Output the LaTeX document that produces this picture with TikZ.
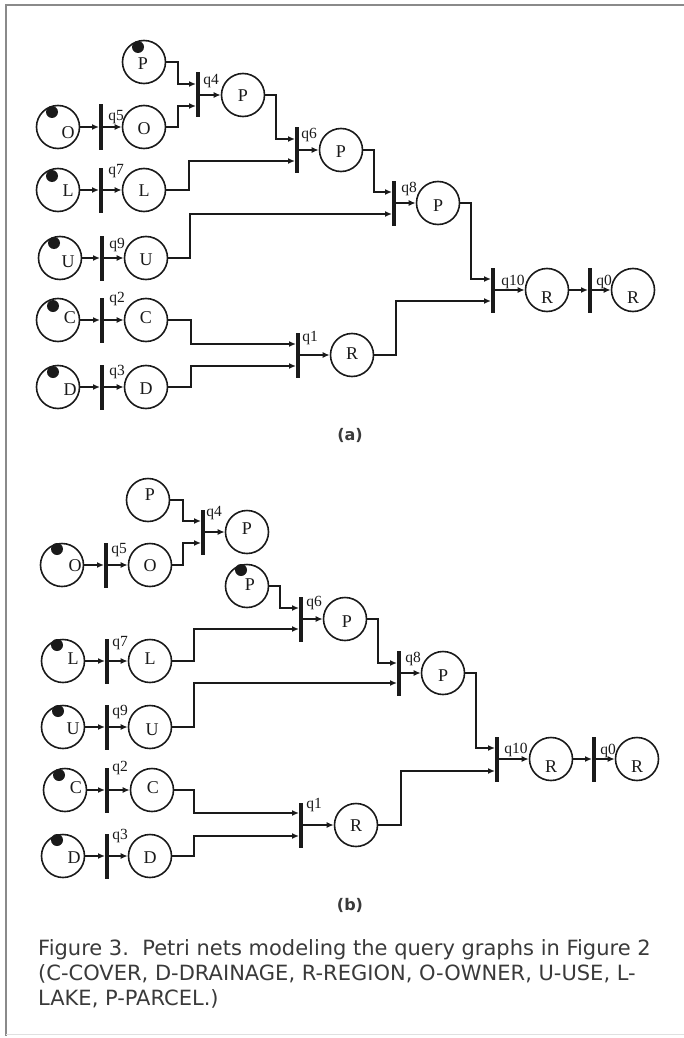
\documentclass[tikz,border=0pt]{standalone}
\usepackage{fontspec}
\setmainfont{Liberation Serif}
\newfontfamily\capfont{DejaVu Sans}
\usetikzlibrary{arrows.meta}
\definecolor{ink}{HTML}{1A1A1A}
\definecolor{framecol}{HTML}{8A8A8A}
\definecolor{captxt}{HTML}{3A3A3A}
\begin{document}
\begin{tikzpicture}[x=1pt,y=-1pt,
 place/.style={circle,draw=ink,line width=1.6pt,minimum size=43pt,inner sep=0pt},
 bar/.style={rectangle,fill=ink,draw=none,minimum width=4pt,minimum height=45pt,inner sep=0pt,outer sep=0pt},
 arc/.style={draw=ink,line width=1.5pt,-{Latex[length=7pt,width=6pt]}},
 ltr/.style={font=\fontsize{18}{18}\selectfont,text=ink,inner sep=0pt},
 qlab/.style={font=\fontsize{15.5}{15.5}\selectfont,text=ink,inner sep=0pt},
 tok/.style={fill=ink},
 sub/.style={font=\capfont\bfseries\fontsize{16}{16}\selectfont,text=captxt,inner sep=0pt},
 capline/.style={font=\capfont\fontsize{21}{21}\selectfont,text=captxt,inner sep=0pt,anchor=base west}]
\useasboundingbox (0,0) rectangle (684,1038);
% frame
\draw[framecol,line width=2pt] (5,5) -- (684,5);
\draw[framecol,line width=1.5pt] (6,5) -- (6,1036);
\draw[black!12,line width=1pt] (6,1034) -- (684,1034);

% ================= (a) =================
\node[place] (P0) at (144,62) {};
\node[place] (P4) at (243,95) {};
\node[place] (O0) at (58,127) {};
\node[place] (O1) at (144,127) {};
\node[place] (P6) at (341,150) {};
\node[place] (L0) at (58,190) {};
\node[place] (L1) at (144,190) {};
\node[place] (P8) at (438,203) {};
\node[place] (U0) at (60,258) {};
\node[place] (U1) at (146,258) {};
\node[place] (R10) at (547,290) {};
\node[place] (R0) at (633,290) {};
\node[place] (C0) at (58,320) {};
\node[place] (C1) at (146,320) {};
\node[place] (R1) at (352,355) {};
\node[place] (D0) at (58,387) {};
\node[place] (D1) at (146,387) {};

\node[bar] (q4) at (198,95) {};
\node[bar] (q5) at (101,127) {};
\node[bar] (q6) at (297,150) {};
\node[bar] (q7) at (101,190) {};
\node[bar] (q8) at (394,203) {};
\node[bar] (q9) at (102,258) {};
\node[bar] (q10) at (493,290) {};
\node[bar] (q0) at (590,290) {};
\node[bar] (q2) at (102,320) {};
\node[bar] (q1) at (298,355) {};
\node[bar] (q3) at (102,387) {};

\fill[tok] (138,47) circle[radius=6pt];
\fill[tok] (52,112) circle[radius=6pt];
\fill[tok] (52,176) circle[radius=6pt];
\fill[tok] (54,243) circle[radius=6pt];
\fill[tok] (53,306) circle[radius=6pt];
\fill[tok] (53,372) circle[radius=6pt];

\node[ltr] (tP0) at (143,64) {P};
\node[ltr] (tP4) at (243,96) {P};
\node[ltr] (tO0) at (68,133) {O};
\node[ltr] (tO1) at (144,129) {O};
\node[ltr] (tP6) at (341,152) {P};
\node[ltr] (tL0) at (68,191) {L};
\node[ltr] (tL1) at (144,191) {L};
\node[ltr] (tP8) at (438,206) {P};
\node[ltr] (tU0) at (68,262) {U};
\node[ltr] (tU1) at (146,260) {U};
\node[ltr] (tR10) at (547,298) {R};
\node[ltr] (tR0) at (633,298) {R};
\node[ltr] (tC0) at (70,318) {C};
\node[ltr] (tC1) at (146,318) {C};
\node[ltr] (tR1) at (352,354) {R};
\node[ltr] (tD0) at (70,390) {D};
\node[ltr] (tD1) at (146,389) {D};

\node[qlab] (lq4) at (211,81) {q4};
\node[qlab] (lq5) at (116,117) {q5};
\node[qlab] (lq6) at (309,135) {q6};
\node[qlab] (lq7) at (116,171) {q7};
\node[qlab] (lq9) at (117,245) {q9};
\node[qlab] (lq2) at (117,299) {q2};
\node[qlab] (lq3) at (117,372) {q3};
\node[qlab] (lq1) at (310,338) {q1};
\node[qlab] (lq8) at (409,189) {q8};
\node[qlab] (lq10) at (513,282) {q10};
\node[qlab] (lq0) at (604,282) {q0};

\draw[arc] (P0.east) -- ++(11.5,0) |- ([yshift=11pt]q4.west);
\draw[arc] (O1.east) -- ++(11.5,0) |- ([yshift=-11pt]q4.west);
\draw[arc] (q4) -- (P4);
\draw[arc] (O0) -- (q5);
\draw[arc] (q5) -- (O1);
\draw[arc] (P4.east) -- ++(10.5,0) |- ([yshift=11pt]q6.west);
\draw[arc] (L1.east) -- ++(22.5,0) |- ([yshift=-11pt]q6.west);
\draw[arc] (q6) -- (P6);
\draw[arc] (L0) -- (q7);
\draw[arc] (q7) -- (L1);
\draw[arc] (P6.east) -- ++(10.5,0) |- ([yshift=11pt]q8.west);
\draw[arc] (U1.east) -- ++(21.5,0) |- ([yshift=-11pt]q8.west);
\draw[arc] (q8) -- (P8);
\draw[arc] (U0) -- (q9);
\draw[arc] (q9) -- (U1);
\draw[arc] (P8.east) -- ++(10.5,0) |- ([yshift=11pt]q10.west);
\draw[arc] (R1.east) -- ++(21.5,0) |- ([yshift=-11pt]q10.west);
\draw[arc] (q10) -- (R10);
\draw[arc] (R10) -- (q0);
\draw[arc] (q0) -- (R0);
\draw[arc] (C0) -- (q2);
\draw[arc] (q2) -- (C1);
\draw[arc] (D0) -- (q3);
\draw[arc] (q3) -- (D1);
\draw[arc] (C1.east) -- ++(22.5,0) |- ([yshift=11pt]q1.west);
\draw[arc] (D1.east) -- ++(22.5,0) |- ([yshift=-11pt]q1.west);
\draw[arc] (q1) -- (R1);

\node[sub] (suba) at (350,435) {(a)};

% ================= (b) =================
\node[place] (P0b) at (148,500) {};
\node[place] (P4b) at (247,532) {};
\node[place] (O0b) at (62,565) {};
\node[place] (O1b) at (150,565) {};
\node[place] (P5b) at (247,586) {};
\node[place] (P6b) at (345,619) {};
\node[place] (L0b) at (63,661) {};
\node[place] (L1b) at (150,661) {};
\node[place] (P8b) at (443,673) {};
\node[place] (U0b) at (63,727) {};
\node[place] (U1b) at (150,727) {};
\node[place] (R10b) at (551,759) {};
\node[place] (R0b) at (637,759) {};
\node[place] (C0b) at (65,790) {};
\node[place] (C1b) at (152,790) {};
\node[place] (R1b) at (356,825) {};
\node[place] (D0b) at (63,856) {};
\node[place] (D1b) at (150,856) {};

\node[bar] (q4b) at (203,532) {};
\node[bar] (q5b) at (106,565) {};
\node[bar] (q6b) at (301,619) {};
\node[bar] (q7b) at (107,661) {};
\node[bar] (q8b) at (399,673) {};
\node[bar] (q9b) at (107,727) {};
\node[bar] (q10b) at (497,759) {};
\node[bar] (q0b) at (594,759) {};
\node[bar] (q2b) at (107,790) {};
\node[bar] (q1b) at (301,825) {};
\node[bar] (q3b) at (107,856) {};

\fill[tok] (57,549) circle[radius=6pt];
\fill[tok] (241,570) circle[radius=6pt];
\fill[tok] (57,645) circle[radius=6pt];
\fill[tok] (58,711) circle[radius=6pt];
\fill[tok] (59,775) circle[radius=6pt];
\fill[tok] (57,840) circle[radius=6pt];

\node[ltr] (tP0b) at (150,495) {P};
\node[ltr] (tP4b) at (247,529) {P};
\node[ltr] (tO0b) at (75,566) {O};
\node[ltr] (tO1b) at (150,566) {O};
\node[ltr] (tP5b) at (250,585) {P};
\node[ltr] (tP6b) at (347,622) {P};
\node[ltr] (tL0b) at (73,659) {L};
\node[ltr] (tL1b) at (150,659) {L};
\node[ltr] (tP8b) at (443,676) {P};
\node[ltr] (tU0b) at (73,729) {U};
\node[ltr] (tU1b) at (152,730) {U};
\node[ltr] (tR10b) at (551,767) {R};
\node[ltr] (tR0b) at (637,767) {R};
\node[ltr] (tC0b) at (76,788) {C};
\node[ltr] (tC1b) at (153,788) {C};
\node[ltr] (tR1b) at (356,826) {R};
\node[ltr] (tD0b) at (74,858) {D};
\node[ltr] (tD1b) at (150,858) {D};

\node[qlab] (lq4b) at (214,513) {q4};
\node[qlab] (lq5b) at (119,550) {q5};
\node[qlab] (lq6b) at (314,603) {q6};
\node[qlab] (lq7b) at (120,643) {q7};
\node[qlab] (lq9b) at (120,712) {q9};
\node[qlab] (lq2b) at (120,768) {q2};
\node[qlab] (lq3b) at (120,836) {q3};
\node[qlab] (lq1b) at (314,805) {q1};
\node[qlab] (lq8b) at (413,659) {q8};
\node[qlab] (lq10b) at (516,750) {q10};
\node[qlab] (lq0b) at (608,751) {q0};

\draw[arc] (P0b.east) -- ++(12.5,0) |- ([yshift=11pt]q4b.west);
\draw[arc] (O1b.east) -- ++(10.5,0) |- ([yshift=-11pt]q4b.west);
\draw[arc] (q4b) -- (P4b);
\draw[arc] (O0b) -- (q5b);
\draw[arc] (q5b) -- (O1b);
\draw[arc] (P5b.east) -- ++(10.5,0) |- ([yshift=11pt]q6b.west);
\draw[arc] (L1b.east) -- ++(21.5,0) |- ([yshift=-10pt]q6b.west);
\draw[arc] (q6b) -- (P6b);
\draw[arc] (L0b) -- (q7b);
\draw[arc] (q7b) -- (L1b);
\draw[arc] (P6b.east) -- ++(10.5,0) |- ([yshift=10pt]q8b.west);
\draw[arc] (U1b.east) -- ++(21.5,0) |- ([yshift=-10pt]q8b.west);
\draw[arc] (q8b) -- (P8b);
\draw[arc] (U0b) -- (q9b);
\draw[arc] (q9b) -- (U1b);
\draw[arc] (P8b.east) -- ++(10.5,0) |- ([yshift=11pt]q10b.west);
\draw[arc] (R1b.east) -- ++(22.5,0) |- ([yshift=-12pt]q10b.west);
\draw[arc] (q10b) -- (R10b);
\draw[arc] (R10b) -- (q0b);
\draw[arc] (q0b) -- (R0b);
\draw[arc] (C0b) -- (q2b);
\draw[arc] (q2b) -- (C1b);
\draw[arc] (D0b) -- (q3b);
\draw[arc] (q3b) -- (D1b);
\draw[arc] (C1b.east) -- ++(19.5,0) |- ([yshift=12pt]q1b.west);
\draw[arc] (D1b.east) -- ++(21.5,0) |- ([yshift=-11pt]q1b.west);
\draw[arc] (q1b) -- (R1b);

\node[sub] (subb) at (350,905) {(b)};

% caption
\node[capline] (cap1) at (38,955) {Figure 3.\ \ Petri nets modeling the query graphs in Figure 2};
\node[capline] (cap2) at (38,980) {(C-COVER, D-DRAINAGE, R-REGION, O-OWNER, U-USE, L-};
\node[capline] (cap3) at (38,1005) {LAKE, P-PARCEL.)};
\end{tikzpicture}
\end{document}
